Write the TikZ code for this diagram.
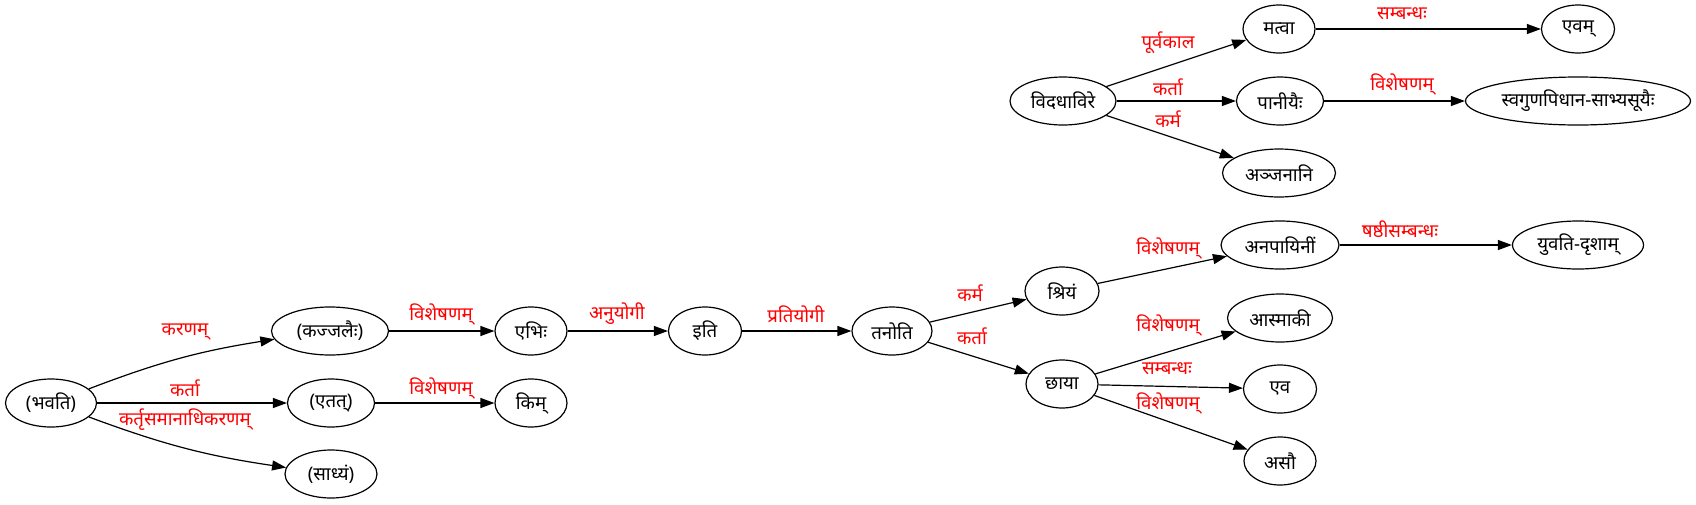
\documentclass[tikz,border=0pt]{standalone}
\usepackage{fontspec}
\newfontfamily\devfont[Script=Devanagari]{Noto Sans}
\usetikzlibrary{shapes.geometric,arrows.meta}
\newcommand\ntxt[1]{\makebox[0pt]{#1}}
\begin{document}
\begin{tikzpicture}[x=0.75pt,y=-0.75pt,
  nd/.style={ellipse,draw,line width=0.9pt,minimum height=36pt,inner sep=0pt,
    font=\devfont\fontsize{14}{16}\selectfont},
  lbase/.style={text=red,inner sep=0pt,font=\devfont\fontsize{14}{16}\selectfont},
  lb/.style={lbase,yshift=3pt},
  lbb/.style={lbase,yshift=-1.5pt},
  ed/.style={draw,line width=0.9pt,-{Triangle[length=10.5pt,width=7.5pt]}}]
\useasboundingbox (0,0) rectangle (1696,504);
% nodes
\node[nd,minimum width=68.25pt] (bhavati) at (51,403) {\ntxt{(भवति)}};
\node[nd,minimum width=87.75pt] (kajj) at (330,331) {\ntxt{(कज्जलैः)}};
\node[nd,minimum width=65.25pt] (etat) at (331,403) {\ntxt{(एतत्)}};
\node[nd,minimum width=69pt] (sadhyam) at (331,474) {\ntxt{(साध्यं)}};
\node[nd,minimum width=54pt] (ebhih) at (531,331) {\ntxt{एभिः}};
\node[nd,minimum width=54pt] (kim) at (531,403) {\ntxt{किम्}};
\node[nd,minimum width=54.75pt] (iti) at (705,331) {\ntxt{इति}};
\node[nd,minimum width=60pt] (tanoti) at (892,331) {\ntxt{तनोति}};
\node[nd,minimum width=55.5pt] (shriyam) at (1062,291) {\ntxt{श्रियं}};
\node[nd,minimum width=54pt] (chaya) at (1062,384) {\ntxt{छाया}};
\node[nd,minimum width=88.5pt] (anap) at (1280,245) {\ntxt{अनपायिनीं}};
\node[nd,minimum width=78.75pt] (asmaki) at (1280,318) {\ntxt{आस्माकी}};
\node[nd,minimum width=54.75pt] (eva) at (1280,389) {\ntxt{एव}};
\node[nd,minimum width=54pt] (asau) at (1280,461) {\ntxt{असौ}};
\node[nd,minimum width=98.25pt] (yuvati) at (1578,245) {\ntxt{युवति-दृशाम्}};
\node[nd,minimum width=79.5pt] (vidadh) at (1063,101) {\ntxt{विदधाविरे}};
\node[nd,minimum width=54pt] (matva) at (1279,29) {\ntxt{मत्वा}};
\node[nd,minimum width=65.25pt] (paniyaih) at (1280,101) {\ntxt{पानीयैः}};
\node[nd,minimum width=84.75pt] (anjanani) at (1279,173) {\ntxt{अञ्जनानि}};
\node[nd,minimum width=54.75pt] (evam) at (1578,29) {\ntxt{एवम्}};
\node[nd,minimum width=168.75pt] (svaguna) at (1578,101) {\ntxt{स्वगुणपिधान-साभ्यसूयैः}};
% edges
\draw[ed] (bhavati) to[bend left=6] (kajj);
\draw[ed] (bhavati) -- (etat);
\draw[ed] (bhavati) to[bend right=6] (sadhyam);
\draw[ed] (kajj) -- (ebhih);
\draw[ed] (etat) -- (kim);
\draw[ed] (ebhih) -- (iti);
\draw[ed] (iti) -- (tanoti);
\draw[ed] (tanoti) -- (shriyam);
\draw[ed] (tanoti) -- (chaya);
\draw[ed] (shriyam) -- (anap);
\draw[ed] (anap) -- (yuvati);
\draw[ed] (chaya) -- (asmaki);
\draw[ed] (chaya) -- (eva);
\draw[ed] (chaya) -- (asau);
\draw[ed] (vidadh) -- (matva);
\draw[ed] (vidadh) -- (paniyaih);
\draw[ed] (vidadh) -- (anjanani);
\draw[ed] (matva) -- (evam);
\draw[ed] (paniyaih) -- (svaguna);
% labels
\node[lb] (l1) at (185,336) {करणम्};
\node[lb] (l2) at (185,392) {कर्ता};
\node[lbb] (l3) at (185,418) {कर्तृसमानाधिकरणम्};
\node[lb] (l4) at (441,318) {विशेषणम्};
\node[lb] (l5) at (441,392) {विशेषणम्};
\node[lb] (l6) at (617,318) {अनुयोगी};
\node[lb] (l7) at (796,318) {प्रतियोगी};
\node[lb] (l8) at (970,297) {कर्म};
\node[lb] (l9) at (972,340) {कर्ता};
\node[lb] (l10) at (1168,252) {विशेषणम्};
\node[lb] (l11) at (1400,233) {षष्ठीसम्बन्धः};
\node[lb] (l12) at (1168,329) {विशेषणम्};
\node[lb] (l13) at (1167,373) {सम्बन्धः};
\node[lbb] (l14) at (1168,401) {विशेषणम्};
\node[lb] (l15) at (1168,47) {पूर्वकाल};
\node[lb] (l16) at (1168,91) {कर्ता};
\node[lbb] (l17) at (1168,117) {कर्म};
\node[lb] (l18) at (1402,18) {सम्बन्धः};
\node[lb] (l19) at (1402,88) {विशेषणम्};
\end{tikzpicture}
\end{document}
